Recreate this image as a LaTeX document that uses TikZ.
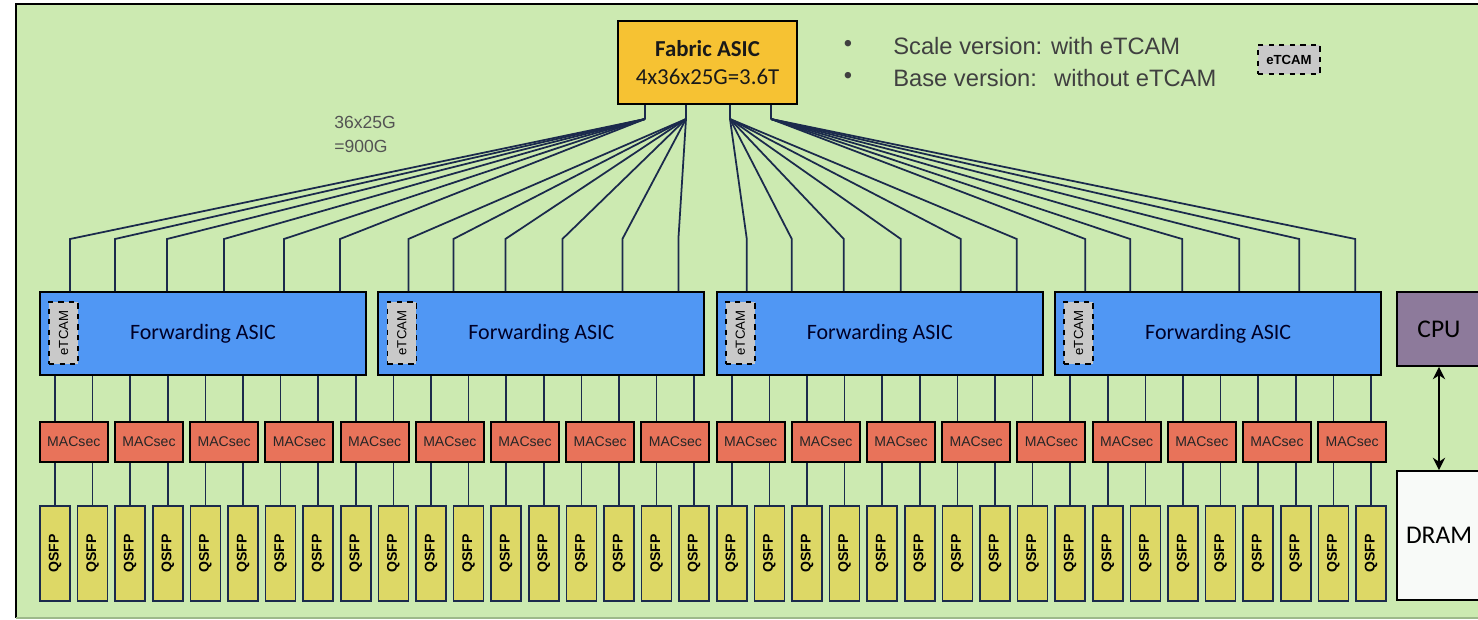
\documentclass[tikz,border=0pt]{standalone}
\usepackage{fontspec}
\usepackage{graphicx}
\setmainfont{Liberation Sans}
\newfontfamily\calfont{Carlito}
\usetikzlibrary{arrows.meta}
\definecolor{boardgreen}{HTML}{CCEAB1}
\definecolor{edgegreen}{HTML}{9DB98A}
\definecolor{fabricorange}{HTML}{F6C233}
\definecolor{fwdblue}{HTML}{5097F4}
\definecolor{macred}{HTML}{E8735A}
\definecolor{qsfpyellow}{HTML}{DDD866}
\definecolor{linenavy}{HTML}{1B2A4C}
\definecolor{tcamgray}{HTML}{C9C9C9}
\definecolor{cpupurple}{HTML}{8D7A9B}
\definecolor{dramwhite}{HTML}{F8FAF8}
\definecolor{textgray}{HTML}{404040}
\tikzset{
  box/.style={draw=black, line width=1.1pt, inner sep=0pt},
  fabric/.style={box, fill=fabricorange, minimum width=3.58cm, minimum height=1.66cm, align=center, font=\calfont\fontsize{13}{15.5}\selectfont, text=black!90},
  fwd/.style={box, fill=fwdblue, minimum width=6.52cm, minimum height=1.66cm, font=\calfont\fontsize{12.5}{15}\selectfont, text=black!85!blue},
  tcam/.style={draw=black, dashed, line width=0.9pt, fill=tcamgray, inner sep=0pt, font=\fontsize{7.5}{9}\selectfont},
  macsec/.style={box, fill=macred, minimum width=1.36cm, minimum height=0.8cm, font=\fontsize{8}{9}\selectfont, text=black!85},
  qsfp/.style={draw=linenavy, line width=1pt, fill=qsfpyellow, minimum width=0.6cm, minimum height=1.9cm, inner sep=0pt, font=\bfseries\fontsize{8}{9}\selectfont},
  cpubox/.style={box, fill=cpupurple, minimum width=1.68cm, minimum height=1.48cm, font=\calfont\fontsize{14.5}{16}\selectfont},
  drambox/.style={box, fill=dramwhite, minimum width=1.68cm, minimum height=2.58cm, font=\calfont\fontsize{14.5}{16}\selectfont},
  legend/.style={inner sep=0pt, text=textgray, font=\fontsize{13.5}{16}\selectfont},
  ratelabel/.style={inner sep=0pt, align=left, text=textgray!90, font=\fontsize{10}{13.6}\selectfont},
  link/.style={draw=linenavy, line width=1pt},
  dbl/.style={{Stealth[length=7pt,width=7pt]}-{Stealth[length=7pt,width=7pt]}, line width=1pt},
}
\begin{document}
\begin{tikzpicture}[x=0.02cm,y=-0.02cm]
			\useasboundingbox (0,0) rectangle (1478,619);
			\clip (0,0) rectangle (1478,619);
			% board
			\fill[boardgreen] (16,4) rectangle (1500,618);
			\draw[line width=1.7pt] (1500,4) -- (16,4) -- (16,618);
			\draw[edgegreen, line width=0.8pt] (16,618) -- (1500,618);
			\node[fabric] (fab) at (707.5,62.5){\textbf{Fabric ASIC}\\4x36x25G=3.6T};
			\node[legend] (b1) at (848,46){\textbullet};
			\node[legend] (b2) at (848,78){\textbullet};
			\node[legend, anchor=west] (l1) at (893,46){Scale version: with eTCAM};
			\node[legend, anchor=west] (l2) at (893,78){Base version:\ \ \,without eTCAM};
			\node[tcam, minimum width=1.24cm, minimum height=0.58cm] (tl) at (1289,59.5){\textbf{eTCAM}};
			\node[ratelabel, anchor=north west] (rate) at (334,116){36x25G\\=900G};
			\foreach\k [evaluate=\k as \y using {203+(\k-1)*338.4}] in {1,2,...,4}{
				\node[fwd] (f\k) at (\y,333.5){Forwarding ASIC};
				\node[tcam, minimum width=0.58cm, minimum height=1.24cm] (e\k) at (\y-139.5,333){\rotatebox{90}{eTCAM}};
			}
			\foreach\x [evaluate=\x as \y using {73.8+(\x-1)*75.2}] in {1,2,...,18}{
				\node[macsec] (m\x) at (\y,442){MACsec};
			}
			\foreach\x [evaluate=\x as \y using {55+(\x-1)*37.6}] in {1,2,...,36}{
				\node[qsfp] (q\x) at (\y,553.5){\rotatebox{90}{QSFP}};
			}
			\node[cpubox] (cpu) at (1439,329){CPU};
			\node[drambox] (dram) at (1439,535.5){DRAM};
			\draw[dbl] (cpu.south) to (dram.north);
			% fabric to forwarding
			\foreach\k/\sx in {1/645,2/686,3/730,4/771}{
				\coordinate (s\k) at (\sx,119);
				\draw[link] (fab.south -| s\k) to (s\k);
				\foreach\o [count=\i] in {30,75,127,184,244,300}{
					\coordinate (t\k\i) at ({40+(\k-1)*338.4+\o},239);
					\draw[link] (s\k) -- (t\k\i) -- (t\k\i |- f\k.north);
				}
			}
			% forwarding to MACsec to QSFP
			\foreach\x [evaluate=\x as \m using {int((\x+1)/2)}, evaluate=\x as \k using {int((\x+8)/9)}] in {1,2,...,36}{
				\draw[link] (f\k.south -| q\x) to (m\m.north -| q\x);
				\draw[link] (m\m.south -| q\x) to (q\x.north);
			}
		\end{tikzpicture}
\end{document}
